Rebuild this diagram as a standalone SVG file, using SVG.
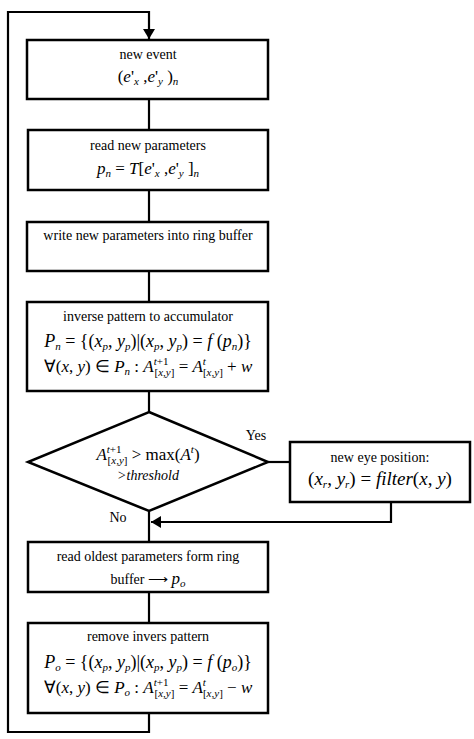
<svg xmlns="http://www.w3.org/2000/svg" width="474" height="739" viewBox="0 0 474 739">
<style>
.box{fill:#fff;stroke:#000;stroke-width:2.5}
.ln{fill:none;stroke:#000;stroke-width:2.2}
text{font-family:'Liberation Serif','Times New Roman',serif;fill:#000;text-anchor:middle}
.t{font-size:14px}
.m{font-size:17px}
.i{font-style:italic}
.s{font-size:11px}
</style>
<defs>
<marker id="ah" markerWidth="10" markerHeight="12" refX="10" refY="6" orient="auto" markerUnits="userSpaceOnUse">
<path d="M0,0 L10,6 L0,12 Z" fill="#000"/>
</marker>
</defs>
<rect width="474" height="739" fill="#fff"/>
<g id="connectors">
<path class="ln" d="M149,713 V732 H8 V12 H149 V39" marker-end="url(#ah)"/>
<path class="ln" d="M149,99 V130"/>
<path class="ln" d="M149,190 V222"/>
<path class="ln" d="M149,271 V302"/>
<path class="ln" d="M149,391 V412"/>
<path class="ln" d="M268,462 H290"/>
<path class="ln" d="M391,502 V522 H151" marker-end="url(#ah)"/>
<path class="ln" d="M149,511 V542"/>
<path class="ln" d="M149,592 V623"/>
<text class="t" x="256" y="440">Yes</text>
<text class="t" x="118" y="522">No</text>
</g>
<g id="n1">
<rect class="box" x="27" y="40" width="241" height="59"/>
<text class="t" x="148" y="59">new event</text>
<text class="m" x="148" y="82">(<tspan class="i">e</tspan>'<tspan class="s i" dy="3">x</tspan><tspan dy="-3"> ,</tspan><tspan class="i">e</tspan>'<tspan class="s i" dy="3">y</tspan><tspan dy="-3"> )</tspan><tspan class="s i" dy="3">n</tspan></text>
</g>
<g id="n2">
<rect class="box" x="28" y="130" width="240" height="60"/>
<text class="t" x="148" y="150">read new parameters</text>
<text class="m" x="148" y="174"><tspan class="i">p</tspan><tspan class="s i" dy="3">n</tspan><tspan dy="-3"> = </tspan><tspan class="i">T</tspan>[<tspan class="i">e</tspan>'<tspan class="s i" dy="3">x</tspan><tspan dy="-3"> ,</tspan><tspan class="i">e</tspan>'<tspan class="s i" dy="3">y</tspan><tspan dy="-3"> ]</tspan><tspan class="s i" dy="3">n</tspan></text>
</g>
<g id="n3">
<rect class="box" x="27" y="222" width="241" height="49"/>
<text class="t" x="148" y="240">write new parameters into ring buffer</text>
</g>
<g id="n4">
<rect class="box" x="27" y="302" width="241" height="89"/>
<text class="t" x="148" y="321">inverse pattern to accumulator</text>
<text class="m" x="148" y="347" style="font-size:18px"><tspan class="i">P</tspan><tspan class="s i" dy="3">n</tspan><tspan dy="-3"> = {(</tspan><tspan class="i">x</tspan><tspan class="s i" dy="3">p</tspan><tspan dy="-3">, </tspan><tspan class="i">y</tspan><tspan class="s i" dy="3">p</tspan><tspan dy="-3">)|(</tspan><tspan class="i">x</tspan><tspan class="s i" dy="3">p</tspan><tspan dy="-3">, </tspan><tspan class="i">y</tspan><tspan class="s i" dy="3">p</tspan><tspan dy="-3">) = </tspan><tspan class="i">f</tspan> (<tspan class="i">p</tspan><tspan class="s i" dy="3">n</tspan><tspan dy="-3">)}</tspan></text>
<text class="m" x="148" y="372">∀(<tspan class="i">x</tspan>, <tspan class="i">y</tspan>) ∈ <tspan class="i">P</tspan><tspan class="s i" dy="3">n</tspan><tspan dy="-3"> : </tspan><tspan class="i">A</tspan><tspan class="s i" dy="-7">t</tspan><tspan class="s">+1</tspan><tspan class="s" dx="-14" dy="11">[<tspan class="i">x</tspan>,<tspan class="i">y</tspan>]</tspan><tspan dy="-4"> = </tspan><tspan class="i">A</tspan><tspan class="s i" dy="-7">t</tspan><tspan class="s" dx="-3" dy="11">[<tspan class="i">x</tspan>,<tspan class="i">y</tspan>]</tspan><tspan dy="-4"> + </tspan><tspan class="i">w</tspan></text>
</g>
<g id="n5">
<polygon class="box" points="149,412 268,462 149,511 28,462"/>
<text class="m" x="148" y="460"><tspan class="i">A</tspan><tspan class="s i" dy="-7">t</tspan><tspan class="s">+1</tspan><tspan class="s" dx="-14" dy="11">[<tspan class="i">x</tspan>,<tspan class="i">y</tspan>]</tspan><tspan dy="-4"> &gt; max(</tspan><tspan class="i">A</tspan><tspan class="s i" dy="-7">t</tspan><tspan dy="7">)</tspan></text>
<text class="t i" x="148" y="480">&gt;threshold</text>
</g>
<g id="n6">
<rect class="box" x="290" y="442" width="180" height="60"/>
<text class="t" x="380" y="462">new eye position:</text>
<text class="m" x="380" y="485" style="font-size:19px">(<tspan class="i">x</tspan><tspan class="s i" dy="3">r</tspan><tspan dy="-3">, </tspan><tspan class="i">y</tspan><tspan class="s i" dy="3">r</tspan><tspan dy="-3">) = </tspan><tspan class="i">filter</tspan>(<tspan class="i">x</tspan>, <tspan class="i">y</tspan>)</text>
</g>
<g id="n7">
<rect class="box" x="28" y="542" width="240" height="50"/>
<text class="t" x="148" y="561">read oldest parameters form ring</text>
<text class="t" x="148" y="584">buffer ⟶ <tspan class="m i">p</tspan><tspan class="s i" dy="3">o</tspan></text>
</g>
<g id="n8">
<rect class="box" x="28" y="623" width="240" height="90"/>
<text class="t" x="148" y="641">remove invers pattern</text>
<text class="m" x="148" y="668" style="font-size:18px"><tspan class="i">P</tspan><tspan class="s i" dy="3">o</tspan><tspan dy="-3"> = {(</tspan><tspan class="i">x</tspan><tspan class="s i" dy="3">p</tspan><tspan dy="-3">, </tspan><tspan class="i">y</tspan><tspan class="s i" dy="3">p</tspan><tspan dy="-3">)|(</tspan><tspan class="i">x</tspan><tspan class="s i" dy="3">p</tspan><tspan dy="-3">, </tspan><tspan class="i">y</tspan><tspan class="s i" dy="3">p</tspan><tspan dy="-3">) = </tspan><tspan class="i">f</tspan> (<tspan class="i">p</tspan><tspan class="s i" dy="3">o</tspan><tspan dy="-3">)}</tspan></text>
<text class="m" x="148" y="693">∀(<tspan class="i">x</tspan>, <tspan class="i">y</tspan>) ∈ <tspan class="i">P</tspan><tspan class="s i" dy="3">o</tspan><tspan dy="-3"> : </tspan><tspan class="i">A</tspan><tspan class="s i" dy="-7">t</tspan><tspan class="s">+1</tspan><tspan class="s" dx="-14" dy="11">[<tspan class="i">x</tspan>,<tspan class="i">y</tspan>]</tspan><tspan dy="-4"> = </tspan><tspan class="i">A</tspan><tspan class="s i" dy="-7">t</tspan><tspan class="s" dx="-3" dy="11">[<tspan class="i">x</tspan>,<tspan class="i">y</tspan>]</tspan><tspan dy="-4"> − </tspan><tspan class="i">w</tspan></text>
</g>
</svg>
